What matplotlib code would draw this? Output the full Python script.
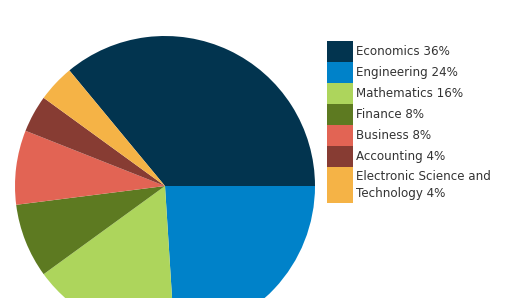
import matplotlib.pyplot as plt
from matplotlib.patches import Rectangle

plt.rcParams['font.family'] = ['DejaVu Sans']

# data
subjects = ['Economics', 'Engineering', 'Mathematics', 'Finance', 'Business',
            'Accounting', 'Electronic Science and\nTechnology']
shares = [36, 24, 16, 8, 8, 4, 4]
colors = ['#02344f', '#0082c9', '#add55c', '#5d7a21', '#e26454', '#873c33', '#f5b346']

W, H = 525, 298
fig = plt.figure(figsize=(W / 100, H / 100), dpi=100)

# pie: centre at (165, 186) px, radius 150 px, cut off by bottom edge
cx, cy, r = 165, 186, 150
ax = fig.add_axes([(cx - r) / W, (H - cy - r) / H, 2 * r / W, 2 * r / H])
ax.pie(shares, colors=colors, startangle=360 * shares[0] / 100,
       counterclock=False, radius=1, wedgeprops=dict(linewidth=0))
ax.set_xlim(-1, 1)
ax.set_ylim(-1, 1)
ax.set_aspect('equal')
ax.axis('off')

# legend drawn by hand: contiguous colour swatches
x0, sw = 327, 26
y = 41
for name, val, col in zip(subjects, shares, colors):
    nlines = name.count('\n') + 1
    h = 21 if nlines == 1 else 36
    fig.patches.append(Rectangle((x0 / W, (H - y - h) / H), sw / W, h / H,
                                 transform=fig.transFigure, color=col, lw=0))
    fig.text((x0 + sw + 3) / W, (H - y - h / 2) / H, f'{name} {val}%',
             ha='left', va='center', fontsize=8.6, color='#333333',
             linespacing=1.3)
    y += h

fig.savefig('out.png', dpi=100)
